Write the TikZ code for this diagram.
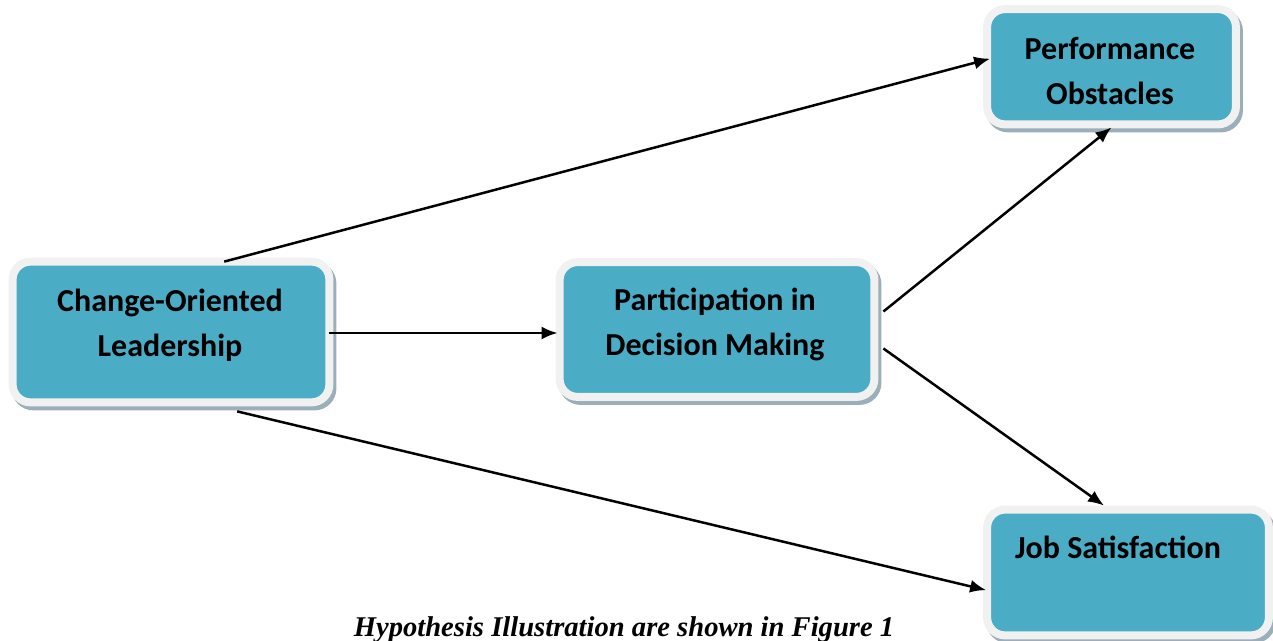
\documentclass[tikz,border=0pt]{standalone}
\usepackage{fontspec}
\setmainfont{Carlito}
\newfontfamily\capfont{Liberation Serif}
\usetikzlibrary{arrows.meta,calc}
\definecolor{teal5}{HTML}{4BACC6}
\definecolor{rim}{HTML}{F1F1F1}
\definecolor{shade}{HTML}{9AAFB9}
\tikzset{
  boxshape/.style={draw=rim, fill=teal5, line width=4pt, rounded corners=9pt, inner sep=0pt},
  boxshadow/.style={draw=shade, fill=shade, line width=4pt, rounded corners=9pt},
  lbl/.style={font=\fontsize{16}{22.5}\selectfont\bfseries, align=center, inner sep=0pt, text=black},
  arr/.style={line width=1.25pt, -{Latex[length=8pt,width=6.5pt]}},
}
\newcommand{\shadowbox}[1]{\path[boxshadow] ([shift={(3,4)}]#1.south west) rectangle ([shift={(3,4)}]#1.north east);}
\begin{document}
\begin{tikzpicture}[x=0.5pt,y=-0.5pt]
\useasboundingbox (0,0) rectangle (1273,641);
% box geometry (positions in pixels)
\path (171,332) coordinate (c1) (717,329.5) coordinate (c2) (1111.5,66.75) coordinate (c3) (1128,572.5) coordinate (c4);
\path (c1) node[minimum width=158pt, minimum height=70pt, inner sep=0pt] (cl) {};
\path (c2) node[minimum width=157pt, minimum height=67pt, inner sep=0pt] (pd) {};
\path (c3) node[minimum width=124pt, minimum height=57.25pt, inner sep=0pt] (po) {};
\path (c4) node[minimum width=140.5pt, minimum height=62.5pt, inner sep=0pt] (js) {};
\foreach \n in {cl,pd,po,js} {\shadowbox{\n}}
\foreach \n in {cl,pd,po,js} {\path[boxshape] (\n.south west) rectangle (\n.north east);}
% labels
\node[lbl] (t1) at (170,325) {Change-Oriented\\Leadership};
\node[lbl] (t2) at (715,324) {Participation in\\Decision Making};
\node[lbl] (t3) at (1110,71) {Performance\\Obstacles};
\node[lbl, anchor=base] (t4) at (1118,558) {Job Satisfaction};
% connector end points
\coordinate (a1s) at ($(cl.north west)!0.668!(cl.north east)$);
\coordinate (a1e) at ($(po.north west)!0.43!(po.south west)+(3,0)$);
\coordinate (a2s) at ($(cl.east)+(0,1)$);
\coordinate (a2e) at ($(pd.west |- a2s)+(-2,0)$);
\coordinate (a3s) at ($(cl.south west)!0.709!(cl.south east)+(0,9)$);
\coordinate (a3e) at ($(js.north west)!0.64!(js.south west)+(-1,0)$);
\coordinate (a4s) at ($(pd.east)+(9,-18)$);
\coordinate (a4e) at ($(po.south)+(0,3)$);
\coordinate (a5s) at ($(pd.east)+(9,19)$);
\coordinate (a5e) at ($(js.north west)!0.415!(js.north east)+(0,-4)$);
\draw[arr] (a1s) -- (a1e);
\draw[arr] (a2s) -- (a2e);
\draw[arr] (a3s) -- (a3e);
\draw[arr] (a4s) -- (a4e);
\draw[arr] (a5s) -- (a5e);
% caption
\node[font=\capfont\bfseries\itshape\fontsize{14.3}{16}\selectfont, anchor=base, inner sep=0pt] (cap) at (624,636) {Hypothesis Illustration are shown in Figure 1};
\end{tikzpicture}
\end{document}
